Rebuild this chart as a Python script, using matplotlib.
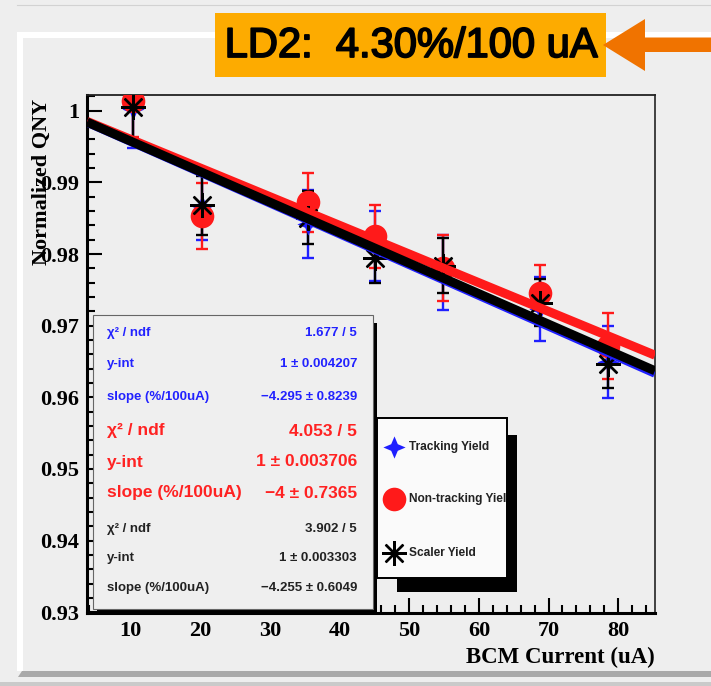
import matplotlib
matplotlib.use('Agg')
import matplotlib.pyplot as plt
import matplotlib.patheffects as pe
from matplotlib.patches import Rectangle, Polygon
from matplotlib.path import Path
from matplotlib.ticker import MultipleLocator
import numpy as np

# beam current scan on LD2, yields normalised to the low-current run
current = [10.3, 20.2, 35.4, 45.1, 54.8, 68.8, 78.6]

tracking = [1.0002, 0.9867, 0.9842, 0.9811, 0.9774, 0.9723, 0.9649]
tracking_err = [0.0054, 0.0048, 0.0048, 0.0049, 0.0052, 0.0045, 0.0050]

nontracking = [1.0013, 0.9853, 0.9872, 0.9825, 0.9781, 0.9746, 0.9672]
nontracking_err = [0.0050, 0.0046, 0.0041, 0.0044, 0.0046, 0.0039, 0.0046]

scaler = [1.0005, 0.9868, 0.9851, 0.9795, 0.9784, 0.9732, 0.9646]
scaler_err = [0.0045, 0.0041, 0.0037, 0.0036, 0.0039, 0.0033, 0.0033]

series_names = ['Tracking Yield', 'Non-tracking Yield', 'Scaler Yield']

# linear fit results: y = yint * (1 + slope[%/100uA] * I / 10000)
chi2 = [1.677, 4.053, 3.902]
ndf = [5, 5, 5]
yint = [1, 1, 1]
yint_err = [0.004207, 0.003706, 0.003303]
slope = [-4.295, -4.0, -4.255]
slope_err = [0.8239, 0.7365, 0.6049]

yticks = [0.93, 0.94, 0.95, 0.96, 0.97, 0.98, 0.99, 1.00]
ytick_labels = ['0.93', '0.94', '0.95', '0.96', '0.97', '0.98', '0.99', '1']
xticks = [10, 20, 30, 40, 50, 60, 70, 80]
xtick_labels = ['10', '20', '30', '40', '50', '60', '70', '80']

headline = 'LD2:  4.30%/100 uA'

W, H = 711, 686
BG = '#eeeeee'
BLUE = '#1f1fff'
RED = '#ff1a1a'
BLACK = '#000000'

plt.rcParams['font.family'] = 'Liberation Serif'
plt.rcParams['font.weight'] = 'bold'

fig = plt.figure(figsize=(W / 100, H / 100), dpi=100, facecolor=BG)


def fy(y):
    return 1 - y / H


ax = fig.add_axes([87 / W, fy(613), (655 - 87) / W, (613 - 95) / H], facecolor=BG)
xmin, xmax = 3.7, 85.3
ax.set_xlim(xmin, xmax)
ax.set_ylim(0.9299, 1.0022)

star4 = Path.unit_regular_star(4, 0.42)
asterisk = (8, 2, 0)

data = [tracking, nontracking, scaler]
errs = [tracking_err, nontracking_err, scaler_err]
colors = [BLUE, RED, BLACK]
markers = [dict(marker=star4, ms=16, mec='none'),
           dict(marker='o', ms=17, mec='none'),
           dict(marker=asterisk, ms=18, mew=1.7)]

for vals, err, c, mk in zip(data, errs, colors, markers):
    ax.errorbar(current, vals, yerr=err, fmt='none', ecolor=c, elinewidth=1.7,
                capsize=4.3, capthick=1.7, zorder=3)
    ax.plot(current, vals, ls='none', color=c, zorder=3.2, **mk)

# fitted lines across the full axis range
xx = np.array([xmin, xmax])
for i, c in enumerate(colors):
    yy = yint[i] * (1 + slope[i] * xx / 1e4)
    ax.plot(xx, yy, color=c, lw=6.5, solid_capstyle='butt', zorder=4 + i * 0.1)

ax.set_xticks(xticks)
ax.set_xticklabels(xtick_labels)
ax.set_yticks(yticks)
ax.set_yticklabels(ytick_labels)
ax.xaxis.set_minor_locator(MultipleLocator(2))
ax.yaxis.set_minor_locator(MultipleLocator(0.002))
ax.tick_params(which='both', direction='in', top=False, right=False,
               width=1.5, color='black', labelsize=16)
ax.tick_params(which='major', length=11)
ax.tick_params(which='minor', length=5.5)
ax.tick_params(axis='y', pad=5.5)
ax.tick_params(axis='x', pad=6)
ax.spines['left'].set_linewidth(2.2)
ax.spines['bottom'].set_linewidth(2.2)
ax.spines['top'].set_linewidth(1.3)
ax.spines['right'].set_linewidth(1.3)
ax.spines['top'].set_color('#222222')
ax.spines['right'].set_color('#333333')

fig.text(42 / W, fy(182), 'Normalized QNY', rotation=90, ha='center', va='center',
         fontsize=16, fontweight='bold')
fig.text(655 / W, fy(657), 'BCM Current (uA)', ha='right', va='center',
         fontsize=16.5, fontweight='bold')

# overlay in pixel units for the slide decorations, stats box and legend
ov = fig.add_axes([0, 0, 1, 1], zorder=10)
ov.set_xlim(0, W)
ov.set_ylim(H, 0)
ov.axis('off')
ov.patch.set_visible(False)

# slide frame
ov.plot([17, W], [5, 5], color='#d2d2d2', lw=0.8)
ov.add_patch(Rectangle((17, 32), 6, 639, fc='white', ec='none'))
ov.add_patch(Rectangle((17, 32), W - 17, 6, fc='white', ec='none'))
ov.add_patch(Polygon([(18, 677), (22, 671), (W, 671), (W, 677)], closed=True,
                     fc='#a9a9a9', ec='none'))
ov.add_patch(Rectangle((0, 682), W, 4, fc='#cacaca', ec='none'))

# headline box with arrow
ov.add_patch(Rectangle((215, 13), 391, 64, fc='#fdab00', ec='none'))
ov.text(411, 46, headline, ha='center', va='center', fontsize=30,
        family='Liberation Sans', fontweight='normal', color='black',
        path_effects=[pe.withStroke(linewidth=1.3, foreground='black')])
ov.add_patch(Polygon([(603, 45), (645, 19), (645, 37.5), (W, 37.5), (W, 52),
                      (645, 52), (645, 71)], closed=True, fc='#f07300', ec='none'))

# fit statistics box
ov.add_patch(Rectangle((373, 323), 4, 289, fc='black', ec='none'))
ov.add_patch(Rectangle((97, 608), 280, 4, fc='black', ec='none'))
ov.add_patch(Rectangle((93, 315), 280, 294, fc='#efefef', ec='#666666', lw=0.8))

row_y = [[333, 364, 397], [431, 462, 493], [529, 558, 588]]
text_colors = ['#2222ff', '#ff2222', '#222222']
text_sizes = [9.5, 12.5, 9.5]
for i in range(3):
    left = ['χ² / ndf', 'y-int', 'slope (%/100uA)']
    right = ['%.3f / %d' % (chi2[i], ndf[i]),
             '%g ± %g' % (yint[i], yint_err[i]),
             ('%g ± %g' % (slope[i], slope_err[i])).replace('-', '−')]
    for j in range(3):
        ov.text(107, row_y[i][j], left[j], ha='left', va='center',
                fontsize=text_sizes[i], family='Liberation Sans',
                fontweight='bold', color=text_colors[i])
        ov.text(357, row_y[i][j], right[j], ha='right', va='center',
                fontsize=text_sizes[i], family='Liberation Sans',
                fontweight='bold', color=text_colors[i])

# legend
ov.add_patch(Rectangle((507, 435), 10, 157, fc='black', ec='none'))
ov.add_patch(Rectangle((397, 578), 120, 14, fc='black', ec='none'))
leg_box = Rectangle((377, 418), 130, 160, fc='#fafafa', ec='black', lw=1.3)
ov.add_patch(leg_box)
leg_y = [447, 499, 553]
for name, c, mk, y in zip(series_names, colors, markers, leg_y):
    ov.plot([394], [y], ls='none', color=c, **mk)
    t = ov.text(409, y, name, ha='left', va='center', fontsize=8.6,
                family='Liberation Sans', fontweight='bold', color='#222222',
                clip_on=True)
    t.set_clip_path(leg_box)
    t.set_clip_on(True)
# redraw the legend frame on top so clipped text ends at its edge
ov.add_patch(Rectangle((377, 418), 130, 160, fc='none', ec='black', lw=1.3, zorder=5))

fig.savefig('out.png', dpi=100, facecolor=BG)
